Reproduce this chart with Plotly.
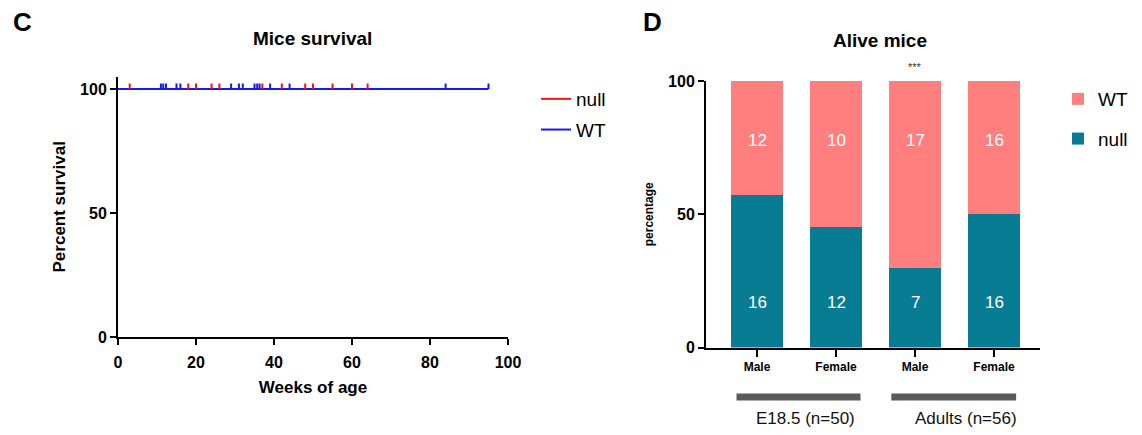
import plotly.graph_objects as go

# ---------------- data ----------------
# Panel C: Kaplan-Meier survival (all censored, survival stays at 100 %)
week_ticks = [0, 20, 40, 60, 80, 100]
pct_ticks = [0, 50, 100]
null_censor_weeks = [3, 18, 20, 24, 26, 37, 42, 48, 50, 55, 60, 64]
wt_censor_weeks = [11, 11.6, 12.3, 15, 16, 29, 31, 32, 35, 35.7, 36.3, 39, 44, 84, 95]
null_survival = 100
wt_survival = 100

# Panel D: alive mice percentages
bar_x = [0, 1, 2, 3]
sex_labels = ["Male", "Female", "Male", "Female"]
null_pct = [57.1, 45.1, 29.9, 50.0]
wt_pct = [42.9, 54.9, 70.1, 50.0]
null_counts = [16, 12, 7, 16]
wt_counts = [12, 10, 17, 16]
group_labels = ["E18.5 (n=50)", "Adults (n=56)"]
signif_bar = 2
signif_text = "***"

# ---------------- style ----------------
FONT = "Liberation Sans, Arial, sans-serif"
RED = "#FF1010"
BLUE = "#1818F0"
PINK = "#FF7F7F"
TEAL = "#087C93"
OFF = 8  # page body margin
W, H = 1142 - 2 * OFF, 435 - 2 * OFF


def px_x(p):
    return (p - OFF) / W


def px_y(p):
    return 1 - (p - OFF) / H


fig = go.Figure()

# survival lines (red under blue)
for name, weeks, surv, col, grp in [
    ("null", null_censor_weeks, null_survival, RED, "g1"),
    ("WT", wt_censor_weeks, wt_survival, BLUE, "g2"),
]:
    fig.add_trace(go.Scatter(
        x=[0, max(weeks)], y=[surv, surv], mode="lines",
        line=dict(color=col, width=2), name=name,
        legendgroup=grp, legend="legend", xaxis="x", yaxis="y",
    ))
for name, weeks, surv, col, grp in [
    ("null", null_censor_weeks, null_survival, RED, "g1"),
    ("WT", wt_censor_weeks, wt_survival, BLUE, "g2"),
]:
    fig.add_trace(go.Scatter(
        x=weeks, y=[surv] * len(weeks), mode="markers",
        marker=dict(size=1, color="rgba(0,0,0,0)"),
        error_y=dict(type="constant", value=2.2, valueminus=0, symmetric=False,
                     width=0, thickness=2, color=col),
        showlegend=False, legendgroup=grp, xaxis="x", yaxis="y",
        hoverinfo="skip",
    ))

# stacked bars
fig.add_trace(go.Bar(
    x=bar_x, y=null_pct, name="null", marker=dict(color=TEAL, line=dict(width=0)),
    width=0.66, xaxis="x2", yaxis="y2", legend="legend2", legendgroup="b1",
    legendrank=2,
))
fig.add_trace(go.Bar(
    x=bar_x, y=wt_pct, name="WT", marker=dict(color=PINK, line=dict(width=0)),
    width=0.66, xaxis="x2", yaxis="y2", legend="legend2", legendgroup="b2",
    legendrank=1,
))

annotations = []
for xi, n in zip(bar_x, null_counts):
    annotations.append(dict(x=xi, y=17, xref="x2", yref="y2", text=str(n),
                            showarrow=False, font=dict(family=FONT, size=17, color="white")))
for xi, n in zip(bar_x, wt_counts):
    annotations.append(dict(x=xi, y=77.5, xref="x2", yref="y2", text=str(n),
                            showarrow=False, font=dict(family=FONT, size=17, color="white")))
annotations.append(dict(x=signif_bar, y=100, xref="x2", yref="y2", text=signif_text,
                        showarrow=False, yshift=14, font=dict(family=FONT, size=11, color="#333")))

# group labels and lines
group_line_spans = [(-0.26, 1.31), (1.70, 3.28)]
group_text_x = [0.61, 2.65]
shapes = []
for (a, b), gx, lab in zip(group_line_spans, group_text_x, group_labels):
    shapes.append(dict(type="line", xref="x2", yref="paper", x0=a, x1=b,
                       y0=px_y(397), y1=px_y(397), line=dict(color="#5a5a5a", width=7)))
    annotations.append(dict(x=gx, y=px_y(418), xref="x2", yref="paper", text=lab,
                            yanchor="middle", showarrow=False,
                            font=dict(family=FONT, size=17, color="#111")))

# titles and panel letters
annotations += [
    dict(x=px_x(22), y=px_y(22), xref="paper", yref="paper", text="<b>C</b>",
         xanchor="center", yanchor="middle",
         showarrow=False, font=dict(family=FONT, size=26, color="black")),
    dict(x=px_x(652), y=px_y(22), xref="paper", yref="paper", text="<b>D</b>",
         xanchor="center", yanchor="middle",
         showarrow=False, font=dict(family=FONT, size=26, color="black")),
    dict(x=px_x(312), y=px_y(38), xref="paper", yref="paper", text="<b>Mice survival</b>",
         xanchor="center", yanchor="middle",
         showarrow=False, font=dict(family=FONT, size=19, color="black")),
    dict(x=px_x(880), y=px_y(40), xref="paper", yref="paper", text="<b>Alive mice</b>",
         xanchor="center", yanchor="middle",
         showarrow=False, font=dict(family=FONT, size=19, color="black")),
]

axis_common = dict(showline=True, linecolor="black", linewidth=2, ticks="outside",
                   tickwidth=2, tickcolor="black", showgrid=False, zeroline=False,
                   automargin=False)

fig.update_layout(
    width=W, height=H,
    margin=dict(l=0, r=0, t=0, b=0, autoexpand=False),
    paper_bgcolor="white", plot_bgcolor="white",
    barmode="stack",
    font=dict(family=FONT, color="black"),
    xaxis=dict(domain=[px_x(118), px_x(508)], range=[0, 100], tickvals=week_ticks,
               ticklen=6, ticklabelstandoff=4,
               tickfont=dict(family=FONT, size=16, weight="bold"),
               title=dict(text="Weeks of age", font=dict(family=FONT, size=17, weight="bold"),
                          standoff=11),
               anchor="y", **axis_common),
    yaxis=dict(domain=[px_y(337), px_y(76.6)], range=[0, 105], tickvals=pct_ticks,
               ticklen=6, tickfont=dict(family=FONT, size=16, weight="bold"),
               title=dict(text="Percent survival", font=dict(family=FONT, size=17, weight="bold"),
                          standoff=10),
               anchor="x", **axis_common),
    xaxis2=dict(domain=[px_x(706), px_x(1040)], range=[-0.646, 3.582], tickvals=bar_x,
                ticktext=sex_labels, ticklen=7,
                tickfont=dict(family=FONT, size=12, weight="bold"),
                anchor="y2", **axis_common),
    yaxis2=dict(domain=[px_y(347.5), px_y(81)], range=[0, 100], tickvals=pct_ticks,
                ticklen=6, tickfont=dict(family=FONT, size=16, weight="bold"),
                title=dict(text="percentage", font=dict(family=FONT, size=12, weight="bold"),
                           standoff=12),
                anchor="x2", **axis_common),
    legend=dict(x=px_x(536), y=px_y(80), xanchor="left", yanchor="top",
                font=dict(family=FONT, size=19), tracegroupgap=3,
                traceorder="grouped", bgcolor="rgba(0,0,0,0)"),
    legend2=dict(x=px_x(1058), y=px_y(80), xanchor="left", yanchor="top",
                 font=dict(family=FONT, size=19), tracegroupgap=12,
                 traceorder="grouped", bgcolor="rgba(0,0,0,0)"),
    annotations=annotations,
    shapes=shapes,
)

fig.write_html("out.html")
